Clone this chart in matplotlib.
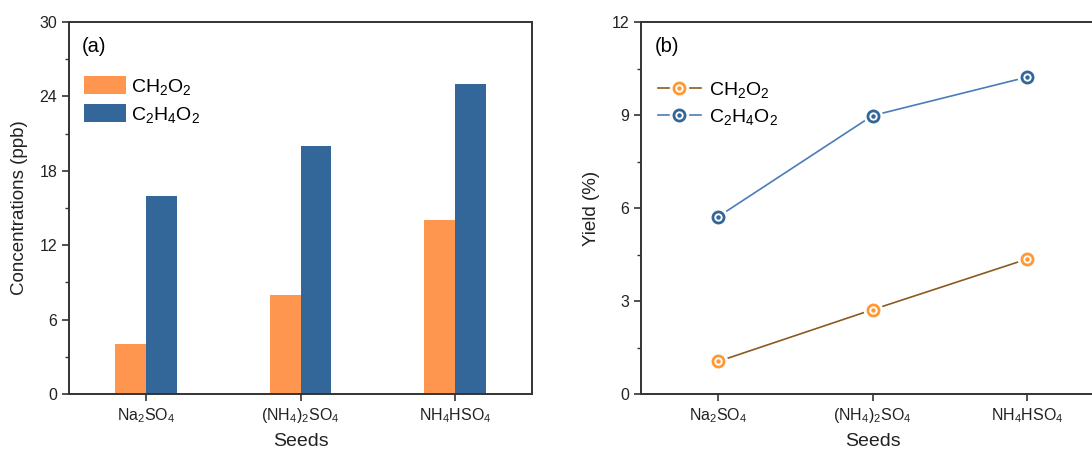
import numpy as np
import matplotlib
matplotlib.use("Agg")
import matplotlib.pyplot as plt
from matplotlib.legend_handler import HandlerTuple
from matplotlib.ticker import MultipleLocator

plt.rcParams["font.family"] = ["Liberation Sans", "DejaVu Sans"]
plt.rcParams["mathtext.fontset"] = "custom"
plt.rcParams["mathtext.rm"] = "Liberation Sans"
plt.rcParams["mathtext.it"] = "Liberation Sans:italic"
plt.rcParams["mathtext.default"] = "regular"

seeds = ["Na$_2$SO$_4$", "(NH$_4$)$_2$SO$_4$", "NH$_4$HSO$_4$"]
species = ["CH$_2$O$_2$", "C$_2$H$_4$O$_2$"]
conc_ch2o2 = [4, 8, 14]
conc_c2h4o2 = [16, 20, 25]
yield_ch2o2 = [1.05, 2.72, 4.35]
yield_c2h4o2 = [5.72, 8.98, 10.22]

bar_colors = ["#ff964f", "#336699"]
line_colors = ["#8b5a1f", "#4a7db5"]
marker_colors = ["#ff9933", "#336699"]
spine_col = "#333333"

fig = plt.figure(figsize=(10.92, 4.53), dpi=100)
ax1 = fig.add_axes([69 / 1092, 59 / 453, 463 / 1092, 372 / 453])
ax2 = fig.add_axes([641 / 1092, 59 / 453, 463 / 1092, 372 / 453])

x = np.arange(len(seeds))
w = 0.2

# (a) bars
ax1.bar(x - w / 2, conc_ch2o2, w, color=bar_colors[0], label=species[0])
ax1.bar(x + w / 2, conc_c2h4o2, w, color=bar_colors[1], label=species[1])
ax1.set_ylim(0, 30)
ax1.set_xlim(-0.5, 2.5)
ax1.yaxis.set_major_locator(MultipleLocator(6))
ax1.yaxis.set_minor_locator(MultipleLocator(3))
ax1.set_ylabel("Concentrations (ppb)", fontsize=13.5, labelpad=8)
ax1.text(0.028, 0.935, "(a)", transform=ax1.transAxes, fontsize=14.5, va="center")
ax1.legend(loc="upper left", bbox_to_anchor=(0.015, 0.875), frameon=False, fontsize=14,
           handlelength=2.15, handleheight=1.0, handletextpad=0.3, labelspacing=0.4,
           borderaxespad=0)

# (b) yields
handles = []
for vals, lc, mc in [(yield_ch2o2, line_colors[0], marker_colors[0]),
                     (yield_c2h4o2, line_colors[1], marker_colors[1])]:
    l, = ax2.plot(x, vals, color=lc, lw=1.2, zorder=2)
    h, = ax2.plot(x, vals, ls="none", marker="o", ms=13, mfc="white", mec="white", zorder=3)
    r, = ax2.plot(x, vals, ls="none", marker="o", ms=8, mfc="white", mec=mc, mew=2, zorder=4)
    d, = ax2.plot(x, vals, ls="none", marker="o", ms=2.2, mfc=mc, mec=mc, zorder=5)
    handles.append((l, h, r, d))
ax2.set_ylim(0, 12)
ax2.set_xlim(-0.5, 2.5)
ax2.yaxis.set_major_locator(MultipleLocator(3))
ax2.yaxis.set_minor_locator(MultipleLocator(1.5))
ax2.set_ylabel("Yield (%)", fontsize=13.5, labelpad=8)
ax2.text(0.03, 0.935, "(b)", transform=ax2.transAxes, fontsize=14.5, va="center")
ax2.legend(handles, species, handler_map={tuple: HandlerTuple(ndivide=1, pad=0)},
           loc="upper left", bbox_to_anchor=(0.02, 0.865), frameon=False, fontsize=14,
           handlelength=2.2, handletextpad=0.4, labelspacing=0.35, borderaxespad=0)

for ax in (ax1, ax2):
    ax.set_xticks(x)
    ax.set_xticklabels(seeds)
    ax.set_xlabel("Seeds", fontsize=14, labelpad=6)
    ax.tick_params(which="major", direction="out", length=5, width=1.2, labelsize=11.5,
                   colors=spine_col, labelcolor="#222222")
    ax.tick_params(which="minor", direction="out", length=3, width=1.0, colors=spine_col)
    ax.tick_params(axis="x", which="minor", bottom=False)
    for s in ax.spines.values():
        s.set_linewidth(1.4)
        s.set_color(spine_col)
    ax.xaxis.label.set_color("#222222")
    ax.yaxis.label.set_color("#222222")

fig.savefig("out.png", dpi=100)
